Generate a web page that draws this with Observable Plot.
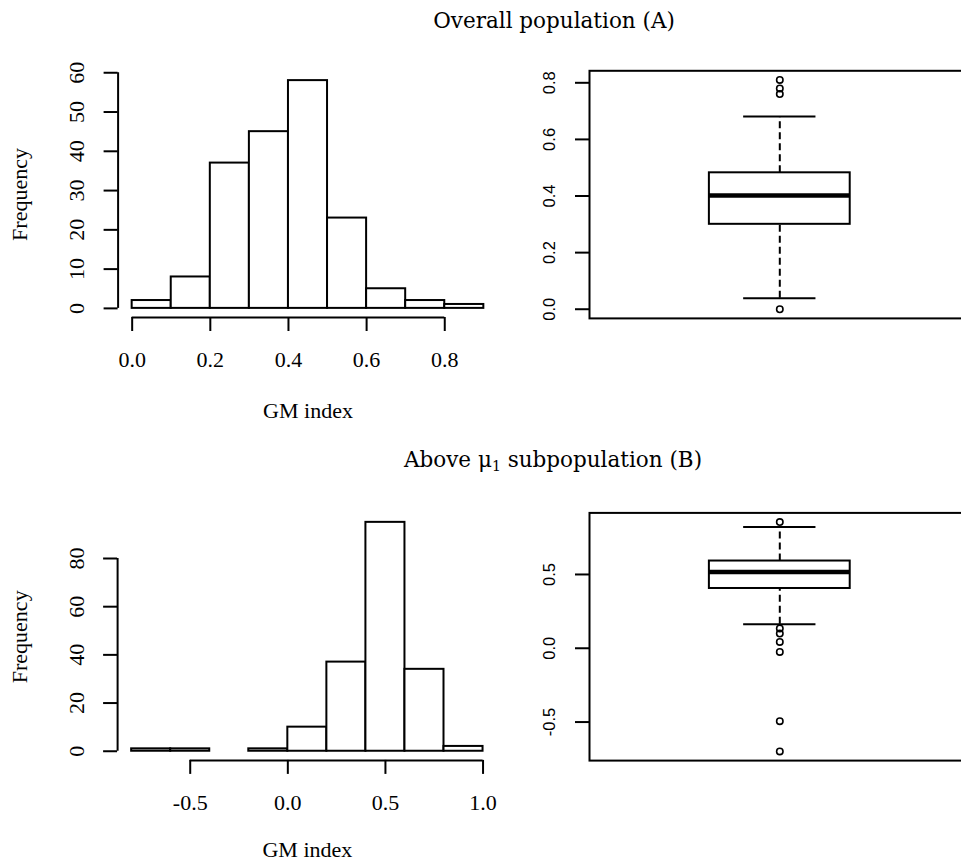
<!DOCTYPE html>
<html>
<head>
<meta charset="utf-8">
<script src="https://cdn.jsdelivr.net/npm/d3@7"></script>
<script src="https://cdn.jsdelivr.net/npm/@observablehq/plot@0.6"></script>
<style>
html, body { margin: 0; padding: 0; background: #fff; overflow: hidden; }
#page { position: relative; width: 961px; height: 862px; overflow: hidden; background: #fff; }
.panel { position: absolute; }
.panel svg { overflow: visible; max-width: none; }
.title { position: absolute; font-family: "DejaVu Serif", serif; font-size: 21.5px; line-height: 20px; color: #000; white-space: nowrap; transform: translateX(-50%); }
.title sub { font-size: 14px; vertical-align: -4px; line-height: 0; }
</style>
</head>
<body>
<div id="page"></div>
<script>
// ---------- data ----------
// Histogram A (overall population)
const histAEdges = [0.0, 0.1, 0.2, 0.3, 0.4, 0.5, 0.6, 0.7, 0.8, 0.9];
const histACounts = [2, 8, 37, 45, 58, 23, 5, 2, 1];
const histAXTicks = [0.0, 0.2, 0.4, 0.6, 0.8];
const histAYTicks = [0, 10, 20, 30, 40, 50, 60];

// Histogram B (above mu1 subpopulation)
const histBEdges = [-0.8, -0.6, -0.4, -0.2, 0.0, 0.2, 0.4, 0.6, 0.8, 1.0];
const histBCounts = [1, 1, 0, 1, 10, 37, 95, 34, 2];
const histBXTicks = [-0.5, 0.0, 0.5, 1.0];
const histBYTicks = [0, 20, 40, 60, 80];

// Boxplot A: lower whisker, Q1, median, Q3, upper whisker
const boxAStats = [0.039, 0.300, 0.402, 0.482, 0.681];
const boxAOutliers = [0.0, 0.76, 0.78, 0.81];
const boxAYTicks = [0.0, 0.2, 0.4, 0.6, 0.8];

// Boxplot B
const boxBStats = [0.163, 0.405, 0.516, 0.591, 0.822];
const boxBOutliers = [0.855, 0.134, 0.100, 0.043, -0.025, -0.494, -0.699];
const boxBYTicks = [-0.5, 0.0, 0.5];

const titleA = "Overall population (A)";
const titleB = ["Above μ", "1", " subpopulation (B)"];
const xLabel = "GM index";
const yLabel = "Frequency";

// ---------- helpers ----------
const ext = (lo, hi) => [lo - 0.04 * (hi - lo), hi + 0.04 * (hi - lo)]; // R's default 4% axis extension
const fmt1 = d => d.toFixed(1); // ASCII hyphen-minus like R
const serif = "Liberation Serif";
const page = document.getElementById("page");

function place(node, left, top) {
  const div = document.createElement("div");
  div.className = "panel";
  div.style.left = left + "px";
  div.style.top = top + "px";
  div.appendChild(node);
  page.appendChild(div);
}

function histogram({edges, counts, xticks, yticks, width, height, mt, mb, ml, mr, labelDy}) {
  const bins = counts.map((c, i) => ({x1: edges[i], x2: edges[i + 1], count: c}));
  const xd = ext(d3.min(edges), d3.max(edges));
  const yd = ext(0, d3.max(counts));
  return Plot.plot({
    width, height, marginTop: mt, marginBottom: mb, marginLeft: ml, marginRight: mr,
    x: {domain: xd},
    y: {domain: yd},
    style: {fontFamily: serif, fontSize: "22px", color: "#000", background: "transparent"},
    marks: [
      Plot.rect(bins, {x1: "x1", x2: "x2", y1: 0, y2: "count", fill: "white", stroke: "black", strokeWidth: 2}),
      Plot.ruleX([xd[0]], {y1: d3.min(yticks), y2: d3.max(yticks), stroke: "black", strokeWidth: 2}),
      Plot.ruleY([yd[0]], {x1: d3.min(xticks), x2: d3.max(xticks), stroke: "black", strokeWidth: 2}),
      Plot.axisY({ticks: yticks, tickSize: 14, tickPadding: 20, tickRotate: -90, strokeWidth: 2,
                  tickFormat: d => String(d), label: null, fontSize: 22}),
      Plot.axisX({ticks: xticks, tickSize: 14, tickPadding: 20, strokeWidth: 2,
                  tickFormat: fmt1, label: null, fontSize: 22}),
      Plot.text([yLabel], {frameAnchor: "left", textAnchor: "middle", rotate: -90, lineAnchor: "bottom", dx: -91, fontSize: 22}),
      Plot.text([xLabel], {frameAnchor: "bottom", textAnchor: "middle", lineAnchor: "bottom", dy: labelDy, fontSize: 22})
    ]
  });
}

function boxplot({stats, outliers, yticks, width, height, mt, mb, ml, mr}) {
  const [lo, q1, med, q3, hi] = stats;
  const row = [{lo, q1, med, q3, hi}];
  const all = [...stats, ...outliers];
  const yd = ext(d3.min(all), d3.max(all));
  const bw = 0.37, cw = 0.19;
  return Plot.plot({
    width, height, marginTop: mt, marginBottom: mb, marginLeft: ml, marginRight: mr,
    x: {domain: [-1, 1], axis: null},
    y: {domain: yd},
    style: {fontFamily: "Liberation Sans", fontSize: "16px", color: "#000", background: "transparent"},
    marks: [
      Plot.ruleX(row, {x: 0, y1: "q3", y2: "hi", stroke: "black", strokeWidth: 2, strokeDasharray: "7,4"}),
      Plot.ruleX(row, {x: 0, y1: "lo", y2: "q1", stroke: "black", strokeWidth: 2, strokeDasharray: "7,4"}),
      Plot.ruleY(row, {y: "hi", x1: -cw, x2: cw, stroke: "black", strokeWidth: 2}),
      Plot.ruleY(row, {y: "lo", x1: -cw, x2: cw, stroke: "black", strokeWidth: 2}),
      Plot.rect(row, {x1: -bw, x2: bw, y1: "q1", y2: "q3", fill: "white", stroke: "black", strokeWidth: 2}),
      Plot.ruleY(row, {y: "med", x1: -bw, x2: bw, stroke: "black", strokeWidth: 4.5}),
      Plot.dot(outliers, {x: 0, y: d => d, r: 3.2, stroke: "black", strokeWidth: 1.6, fill: "none"}),
      Plot.frame({stroke: "black", strokeWidth: 2}),
      Plot.axisY({ticks: yticks, tickSize: 14, tickPadding: 21, tickRotate: -90, strokeWidth: 2,
                  tickFormat: fmt1, label: null, fontSize: 16.5})
    ]
  });
}

// ---------- panels ----------
place(histogram({edges: histAEdges, counts: histACounts, xticks: histAXTicks, yticks: histAYTicks,
  width: 500, height: 430, mt: 71, mb: 113, ml: 117.6, mr: 2.6, labelDy: 100}), 0, 0);

place(boxplot({stats: boxAStats, outliers: boxAOutliers, yticks: boxAYTicks,
  width: 460, height: 430, mt: 70.3, mb: 112.1, ml: 69, mr: 10.4}), 520, 0);

place(histogram({edges: histBEdges, counts: histBCounts, xticks: histBXTicks, yticks: histBYTicks,
  width: 500, height: 432, mt: 82.7, mb: 102.1, ml: 117.1, mr: 3.4, labelDy: 96.5}), 0, 430);

place(boxplot({stats: boxBStats, outliers: boxBOutliers, yticks: boxBYTicks,
  width: 460, height: 432, mt: 82.4, mb: 101.9, ml: 69, mr: 10.4}), 520, 430);

// ---------- titles ----------
const tA = document.createElement("div");
tA.className = "title";
tA.style.left = "554px"; tA.style.top = "11px";
tA.textContent = titleA;
page.appendChild(tA);

const tB = document.createElement("div");
tB.className = "title";
tB.style.left = "553px"; tB.style.top = "450px";
tB.append(titleB[0]);
const sub = document.createElement("sub"); sub.textContent = titleB[1];
tB.append(sub);
tB.append(titleB[2]);
page.appendChild(tB);
</script>
</body>
</html>
